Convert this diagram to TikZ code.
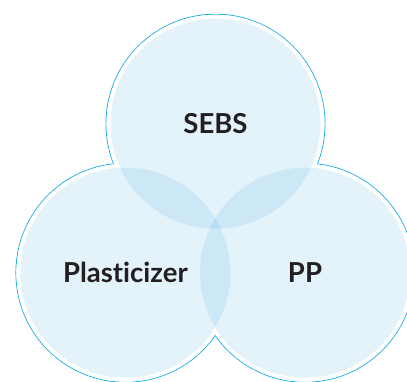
\documentclass[tikz,border=0pt]{standalone}
\usepackage{fontspec}
\setmainfont[Ligatures=NoCommon]{Lato}
\usepackage{xcolor}
\definecolor{vennline}{HTML}{1EB0E8}
\definecolor{vennfill}{RGB}{10,145,215}
\definecolor{venntext}{HTML}{231F20}
\tikzset{
    rim/.style={draw=vennline,line width=0.9pt,fill=white},
    blob/.style={fill=vennfill,fill opacity=0.11},
    vennlabel/.style={font=\bfseries\fontsize{27.5}{32}\selectfont,text=venntext}
}

\begin{document}
\begin{tikzpicture}[x=1pt,y=-1pt]
\useasboundingbox (0,0) rectangle (407,381);
\coordinate (s) at (215.5,123.7); \coordinate (p) at (125.4,272.7); \coordinate (q) at (305,272.7);
% outer rim, then clear the inner arcs
\foreach \c in {s,p,q} \draw[rim] (\c) circle (109.5pt);
\foreach \c in {s,p,q} \fill[white] (\c) circle (109pt);
% the three sets
\foreach \c in {s,p,q} \fill[blob] (\c) circle (105pt);
\node[vennlabel] (sebs) at (s) {SEBS};
\node[vennlabel] (plast) at (p) {Plasticizer};
\node[vennlabel] (pp) at (q) {PP};
\end{tikzpicture}
\end{document}
